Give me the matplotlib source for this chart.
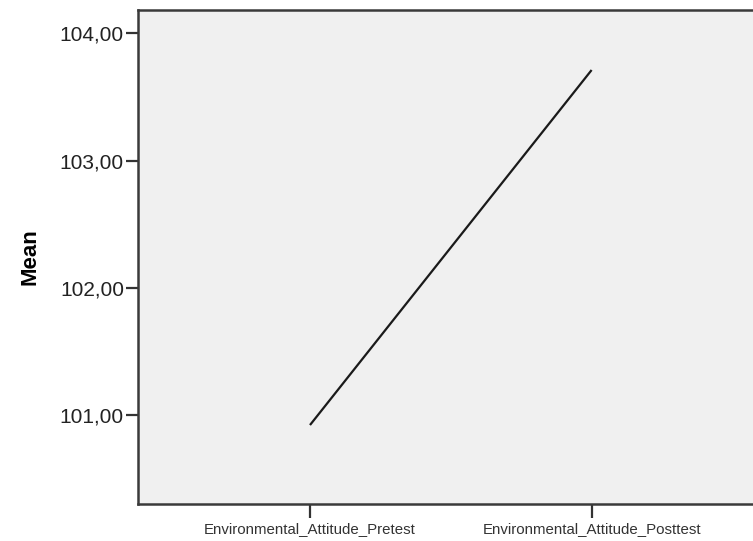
import matplotlib
matplotlib.use("Agg")
import matplotlib.pyplot as plt
from matplotlib.ticker import FuncFormatter

# values
conditions = ["Environmental_Attitude_Pretest", "Environmental_Attitude_Posttest"]
means = [100.925, 103.712]
y_ticks = [101, 102, 103, 104]

plt.rcParams["font.family"] = ["Liberation Sans", "DejaVu Sans"]

fig = plt.figure(figsize=(7.53, 5.41), dpi=100)
ax = fig.add_axes([0.1839, 0.0693, 0.8161, 0.9122])
ax.set_facecolor("#f0f0f0")

x = list(range(len(conditions)))
ax.plot(x, means, color="#1a1a1a", linewidth=1.6, solid_capstyle="butt")

ax.set_xlim(-0.609, 1.573)
ax.set_ylim(100.309, 104.183)
ax.set_xticks(x)
ax.set_xticklabels(conditions, fontsize=10.8, color="#333333")
ax.set_yticks(y_ticks)
ax.yaxis.set_major_formatter(FuncFormatter(lambda v, _: f"{v:.2f}".replace(".", ",")))

ax.tick_params(axis="y", length=9, width=1.6, color="#333333", pad=1.5,
               labelsize=15, labelcolor="#222222")
ax.tick_params(axis="x", length=10, width=1.6, color="#333333", pad=3.5)

for side in ["left", "bottom", "top"]:
    ax.spines[side].set_color("#3a3a3a")
    ax.spines[side].set_linewidth(1.8)
ax.spines["right"].set_visible(False)

ax.set_ylabel("Mean", fontsize=16, fontweight="bold", labelpad=14)

fig.savefig("out.png", dpi=100)
